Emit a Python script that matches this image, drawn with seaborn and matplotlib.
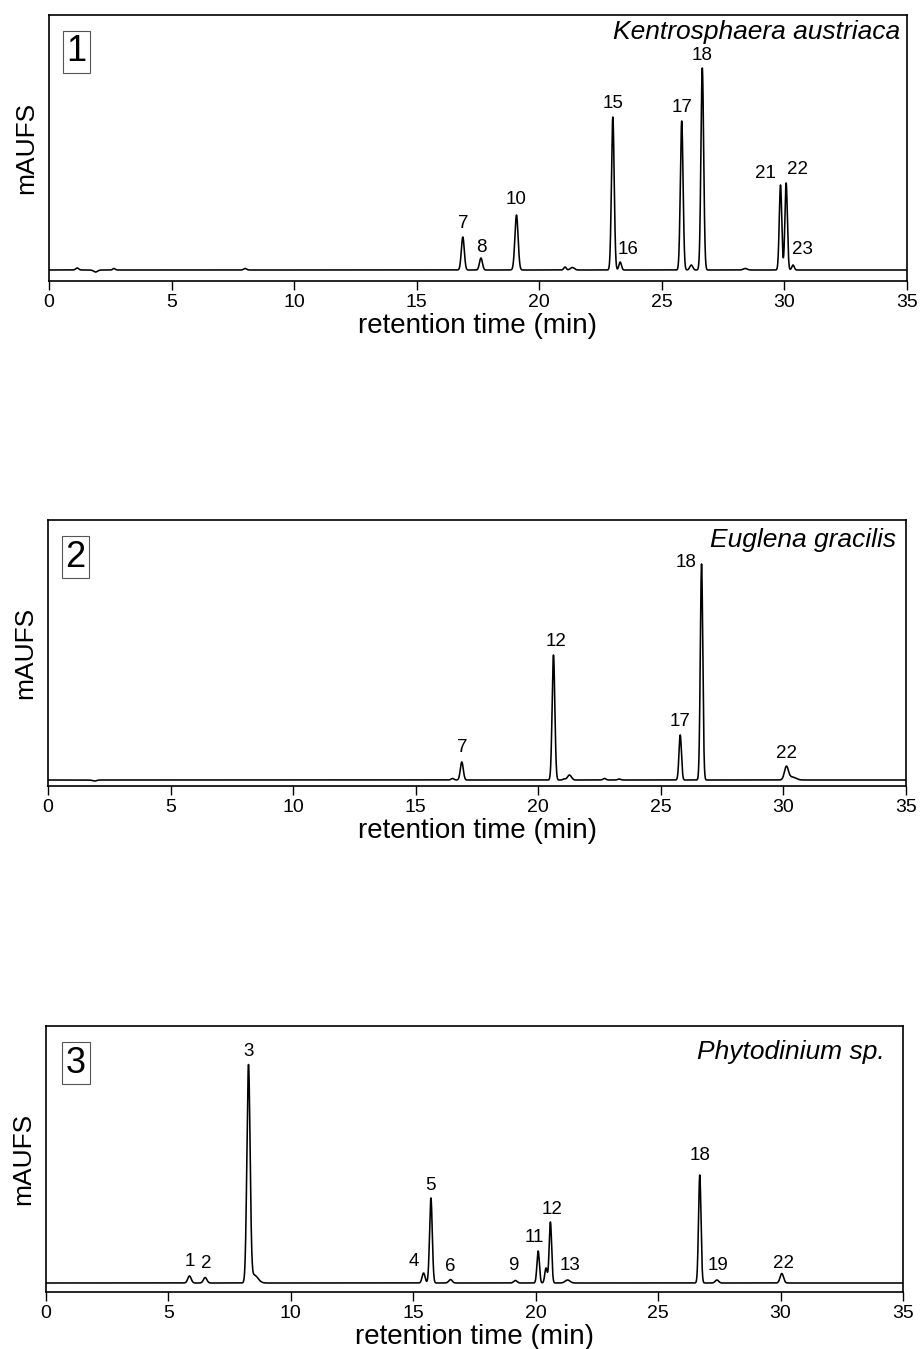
import matplotlib

matplotlib.use("Agg")
import matplotlib.pyplot as plt
import numpy as np
import pandas as pd
import seaborn as sns

# Peak tables (retention time in min,
# height in detector units above baseline, peak sigma in min, peak label)
K_RT = [1.15, 1.9, 2.65, 8.0, 16.88, 17.62, 19.07, 21.05, 21.35, 23.0, 23.3, 25.81, 26.2, 26.65, 28.4, 29.84, 30.07, 30.35]
K_HEIGHT = [2, -2, 1.5, 1.5, 33, 12, 55, 3, 2.5, 153, 8, 149, 5, 202, 1.5, 85, 87, 5]
K_SIGMA = [0.06, 0.08, 0.05, 0.06, 0.06, 0.06, 0.065, 0.05, 0.08, 0.055, 0.05, 0.055, 0.06, 0.055, 0.08, 0.05, 0.05, 0.05]
K_LABEL = ["", "", "", "", "7", "8", "10", "", "", "15", "16", "17", "", "18", "", "21", "22", "23"]

E_RT = [1.9, 16.5, 16.88, 20.62, 21.05, 21.27, 22.7, 23.3, 25.79, 26.66, 30.12, 30.35]
E_HEIGHT = [-1, 1.5, 18, 125, 1, 5, 1.5, 1, 45, 216, 13, 3]
E_SIGMA = [0.08, 0.06, 0.06, 0.055, 0.05, 0.08, 0.06, 0.06, 0.05, 0.05, 0.08, 0.15]
E_LABEL = ["", "", "7", "12", "", "", "", "", "17", "18", "22", ""]

P_RT = [5.86, 6.5, 8.27, 8.5, 15.42, 15.72, 16.52, 19.17, 20.1, 20.42, 20.6, 21.3, 26.7, 27.4, 30.05]
P_HEIGHT = [7, 5.5, 216, 8, 10, 85, 3.5, 2.5, 32, 15, 61, 3, 108, 3, 9.5]
P_SIGMA = [0.07, 0.07, 0.065, 0.15, 0.06, 0.055, 0.07, 0.07, 0.05, 0.05, 0.05, 0.1, 0.05, 0.07, 0.07]
P_LABEL = ["1", "2", "3", "", "4", "5", "6", "9", "11", "", "12", "13", "18", "19", "22"]

SPECIES = ["Kentrosphaera austriaca", "Euglena gracilis", "Phytodinium sp."]
PANEL_NUMBERS = ["1", "2", "3"]
X_TICKS = [0, 5, 10, 15, 20, 25, 30, 35]

# layout in pixels (figure is 923 x 1349 at dpi 100)
W, H = 923, 1349
AXES_PX = [(49, 907, 15, 281), (48, 906, 520, 786), (46, 903, 1026, 1292)]
YLIMS = [(-11, 255), (-6, 260), (-9, 257)]
SPECIES_POS = [(0.992, 0.936), (0.988, 0.925), (0.979, 0.902)]
BOX_POS = [(0.032, 0.861), (0.032, 0.86), (0.035, 0.86)]
# label nudges in pixels (dx, dy) relative to default above-apex placement
NUDGES = [
    {"21": (-15, -2), "22": (11, 0), "16": (8, 0), "23": (9, 3), "10": (0, 2), "8": (0, -2)},
    {"12": (3, 0), "18": (-15, -11), "7": (0, 1)},
    {"4": (-10, -2), "11": (-4, 0), "12": (2, 0), "13": (2, 2), "18": (0, 6), "3": (0, 3),
     "1": (0, 2), "2": (1, 1), "9": (-2, 2), "19": (1, 2), "22": (2, -3)},
]

FONT = ["Liberation Sans", "DejaVu Sans"]


def trace(rt, height, sigma):
    t = np.arange(0, 35.0001, 0.005)
    y = np.zeros_like(t)
    for r, h, s in zip(rt, height, sigma):
        y += h * np.exp(-0.5 * ((t - r) / s) ** 2)
    return pd.DataFrame({"time": t, "signal": y})


def draw_panel(fig, idx, rt, height, sigma, labels):
    x0, x1, y0, y1 = AXES_PX[idx]
    ax = fig.add_axes([x0 / W, 1 - y1 / H, (x1 - x0) / W, (y1 - y0) / H])
    df = trace(rt, height, sigma)
    sns.lineplot(data=df, x="time", y="signal", color="black", lw=1.15,
                 estimator=None, ax=ax)

    for r, h, lab in zip(rt, height, labels):
        if not lab:
            continue
        dx, dy = NUDGES[idx].get(lab, (0, 0))
        ax.annotate(lab, xy=(r, h), xytext=(dx, 13 + dy), textcoords="offset pixels",
                    ha="center", va="center", fontsize=13.5, family=FONT, color="black")

    ax.set_xlim(0, 35)
    ax.set_ylim(*YLIMS[idx])
    ax.set_xticks(X_TICKS)
    ax.set_xticklabels([str(v) for v in X_TICKS], fontsize=14, family=FONT)
    ax.set_yticks([])
    ax.tick_params(axis="x", direction="out", length=6.5, width=1.0, pad=3,
                   colors="black")
    for sp in ax.spines.values():
        sp.set_visible(True)
        sp.set_linewidth(1.2)
        sp.set_color("black")
    ax.set_xlabel("retention time (min)", fontsize=20, family=FONT, labelpad=1,
                  color="black")
    ax.set_ylabel("mAUFS", fontsize=19, family=FONT, color="black")
    ax.yaxis.set_label_coords(-0.013, 0.5)

    ax.text(*SPECIES_POS[idx], SPECIES[idx], transform=ax.transAxes, ha="right",
            va="center", fontsize=19, style="italic", family=FONT, color="black")
    ax.text(*BOX_POS[idx], PANEL_NUMBERS[idx], transform=ax.transAxes, ha="center",
            va="center", fontsize=26, family=FONT, color="black",
            bbox=dict(boxstyle="square,pad=0.1", fc="white", ec="#555555", lw=0.8))
    return ax


sns.set_theme(style="ticks")
plt.rcParams["font.family"] = FONT
plt.rcParams["text.color"] = "black"

fig = plt.figure(figsize=(W / 100, H / 100), dpi=100)
draw_panel(fig, 0, K_RT, K_HEIGHT, K_SIGMA, K_LABEL)
draw_panel(fig, 1, E_RT, E_HEIGHT, E_SIGMA, E_LABEL)
draw_panel(fig, 2, P_RT, P_HEIGHT, P_SIGMA, P_LABEL)

fig.savefig("out.png", dpi=100, facecolor="white")
